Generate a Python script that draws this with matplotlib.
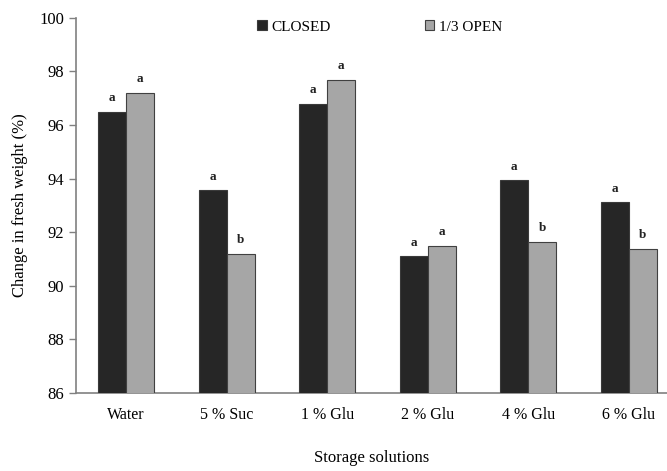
import matplotlib.pyplot as plt
import numpy as np

plt.rcParams['font.family'] = ['Liberation Serif', 'DejaVu Serif']

solutions = ['Water', '5 % Suc', '1 % Glu', '2 % Glu', '4 % Glu', '6 % Glu']
closed = [96.5, 93.57, 96.8, 91.1, 93.93, 93.12]
open_third = [97.21, 91.2, 97.69, 91.5, 91.65, 91.38]
closed_letters = ['a', 'a', 'a', 'a', 'a', 'a']
open_letters = ['a', 'b', 'a', 'a', 'b', 'b']

fig = plt.figure(figsize=(6.67, 4.71), dpi=100)
ax = fig.add_axes([0.114, 0.166, 0.886, 0.796])

x = np.arange(len(solutions))
w = 0.28
ax.bar(x - w / 2, closed, w, color='#262626', edgecolor='#3a3a3a',
       linewidth=0.8, label='CLOSED', zorder=3)
ax.bar(x + w / 2, open_third, w, color='#a6a6a6', edgecolor='#404040',
       linewidth=0.8, label='1/3 OPEN', zorder=3)

# significance letters above each bar
for i in range(len(solutions)):
    ax.text(x[i] - w / 2, closed[i] + 0.28, closed_letters[i], ha='center', va='bottom',
            fontsize=9.5, fontweight='bold', color='#222222')
    ax.text(x[i] + w / 2, open_third[i] + 0.28, open_letters[i], ha='center', va='bottom',
            fontsize=9.5, fontweight='bold', color='#222222')

ax.set_ylim(86, 100)
ax.set_yticks(range(86, 101, 2))
ax.set_xlim(-0.5, 5.38)
ax.set_xticks(x)
ax.set_xticklabels(solutions, fontsize=11.5)
ax.tick_params(axis='y', labelsize=12, length=5, color='#808080', width=1)
ax.tick_params(axis='x', length=0, pad=10)

for s in ['top', 'right']:
    ax.spines[s].set_visible(False)
for s in ['left', 'bottom']:
    ax.spines[s].set_color('#808080')
    ax.spines[s].set_linewidth(1.2)

ax.set_ylabel('Change in fresh weight (%)', fontsize=12, labelpad=8)
ax.set_xlabel('Storage solutions', fontsize=12, labelpad=20)

ax.legend(loc='upper center', bbox_to_anchor=(0.514, 1.03), ncol=2, frameon=False,
          handlelength=0.6, handleheight=0.6, handletextpad=0.3, columnspacing=6.2,
          fontsize=11)

fig.savefig('out.png', dpi=100)
